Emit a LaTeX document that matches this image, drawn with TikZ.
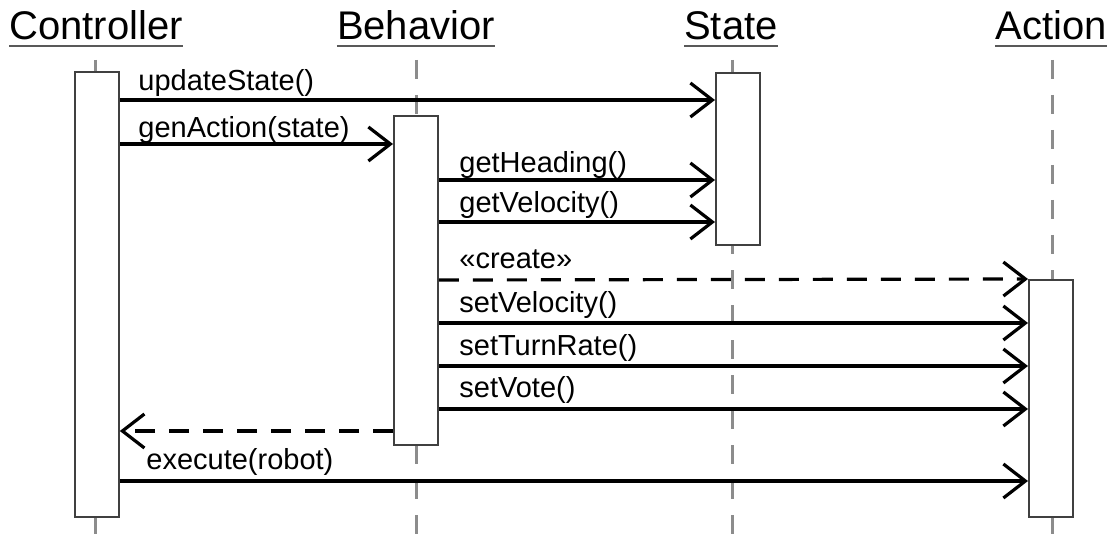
\documentclass[tikz,border=0pt]{standalone}
\usepackage{fontspec}
\setmainfont{Liberation Sans}
\usetikzlibrary{arrows.meta,calc}

\begin{document}
\begin{tikzpicture}[
    x = 1pt, y = -1pt,
    > = {Straight Barb[length=22pt, width=34pt]},
    head/.style = {font = \fontsize{40}{44}\selectfont, anchor = base, inner sep = 0pt},
    uline/.style = {draw = black!65, line width = 1.6pt},
    lifeline/.style = {draw = black!45, line width = 3pt, dash pattern = on 19pt off 16pt},
    actbox/.style = {draw = black!75, line width = 1.8pt, fill = white,
      minimum width = 44pt, inner sep = 0pt, anchor = north west},
    msg/.style = {draw, ->, line width = 3.2pt},
    ret/.style = {msg, dash pattern = on 20pt off 14pt},
    lbl/.style = {font = \fontsize{29}{32}\selectfont, anchor = base west,
      inner sep = 0pt, xshift = 19pt, yshift = 9pt},
    ]

    \useasboundingbox (0,0) rectangle (1114,540);

    % heads of the four objects, underlined
    \node[head] (hctrl) at (96,40)   {Controller};
    \node[head] (hbeh)  at (416,40)  {Behavior};
    \node[head] (hst)   at (731,40)  {State};
    \node[head] (hact)  at (1051,40) {Action};
    \foreach \h in {hctrl, hbeh, hst, hact}{
        \draw[uline] ($(\h.base west)+(0,6)$) -- ($(\h.base east)+(0,6)$);
    }

    % lifelines, drawn first so that the boxes cover them
    \foreach \n/\x in {ctrl/95, beh/416, st/732, act/1052}{
        \coordinate (\n top) at (\x,60);
        \coordinate (\n bot) at (\x,540);
        \draw[lifeline] (\n top) -- (\n bot);
    }

    % activation boxes
    \node[actbox, minimum height = 445pt] (ctrl) at (74,71)   {};
    \node[actbox, minimum height = 329pt] (beh)  at (393,115) {};
    \node[actbox, minimum height = 172pt] (st)   at (715,72)  {};
    \node[actbox, minimum height = 237pt] (act)  at (1028,279) {};

    % heights of the messages
    \coordinate (m1)  at (0,100);
    \coordinate (m2)  at (0,144);
    \coordinate (m3)  at (0,180);
    \coordinate (m4)  at (0,222);
    \coordinate (m5)  at (0,280);
    \coordinate (m6)  at (0,323);
    \coordinate (m7)  at (0,366);
    \coordinate (m8)  at (0,409);
    \coordinate (m9)  at (0,431);
    \coordinate (m10) at (0,481);

    \draw[msg] (ctrl.east |- m1) node[lbl, xshift = -2pt] {updateState()} -- (st.west |- m1);
    \draw[msg] (ctrl.east |- m2) node[lbl, xshift = -2pt, yshift = -3pt] {genAction(state)} -- (beh.west |- m2);
    \draw[msg] (beh.east |- m3) node[lbl, yshift = -2pt] {getHeading()} -- (st.west |- m3);
    \draw[msg] (beh.east |- m4) node[lbl] {getVelocity()} -- (st.west |- m4);
    % the Action object is made here
    \draw[ret] (beh.east |- m5) node[lbl, yshift = 2pt] {«create»} -- (act.north west);
    \draw[msg] (beh.east |- m6) node[lbl, yshift = 2pt] {setVelocity()} -- (act.west |- m6);
    \draw[msg] (beh.east |- m7) node[lbl, yshift = 2pt] {setTurnRate()} -- (act.west |- m7);
    \draw[msg] (beh.east |- m8) node[lbl, yshift = 3pt] {setVote()} -- (act.west |- m8);
    % return of genAction
    \draw[ret] (beh.west |- m9) -- (ctrl.east |- m9);
    \draw[msg] (ctrl.east |- m10) node[lbl, xshift = 6pt, yshift = 3pt] {execute(robot)} -- (act.west |- m10);

\end{tikzpicture}
\end{document}
